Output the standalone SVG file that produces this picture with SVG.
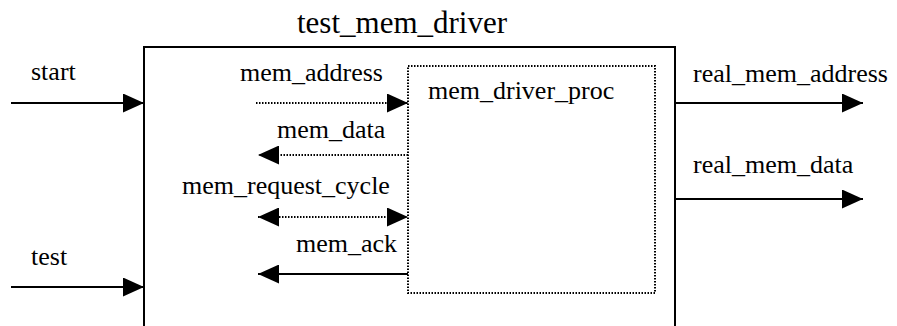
<svg xmlns="http://www.w3.org/2000/svg" width="897" height="326" viewBox="0 0 897 326">
<defs>
<marker id="ah" viewBox="0 0 21 19" refX="21" refY="9.5" markerWidth="21" markerHeight="19" markerUnits="userSpaceOnUse" orient="auto-start-reverse">
<path d="M0,0 L21,9.5 L0,19 Z" fill="#000"/>
</marker>
</defs>
<style>
text{font-family:'Liberation Serif','Times New Roman','DejaVu Serif',serif;font-size:26px;fill:#000}
.title{font-size:31px}
.solid{stroke:#000;stroke-width:2;fill:none}
.dot{stroke:#000;stroke-width:2;stroke-dasharray:1.5 1.5;fill:none}
</style>
<rect width="897" height="326" fill="#fff"/>
<g id="test_mem_driver">
<path class="solid" d="M144,326 V47 H675 V326"/>
<text class="title" x="297" y="33" font-family="Liberation Serif, serif">test_mem_driver</text>
</g>
<g id="mem_driver_proc">
<rect class="dot" x="408" y="66" width="247" height="227"/>
<text x="428" y="99">mem_driver_proc</text>
</g>
<g id="connectors">
<line class="solid" x1="11" y1="103" x2="144" y2="103" marker-end="url(#ah)"/>
<text x="31" y="80">start</text>
<line class="solid" x1="11" y1="287" x2="144" y2="287" marker-end="url(#ah)"/>
<text x="31" y="265">test</text>
<line class="dot" x1="256" y1="103" x2="408" y2="103" marker-end="url(#ah)"/>
<text x="240" y="81">mem_address</text>
<line class="dot" x1="408" y1="155" x2="258" y2="155" marker-end="url(#ah)"/>
<text x="277" y="138">mem_data</text>
<line class="dot" x1="258" y1="217" x2="408" y2="217" marker-start="url(#ah)" marker-end="url(#ah)"/>
<text x="182" y="194">mem_request_cycle</text>
<line class="solid" x1="408" y1="274" x2="258" y2="274" marker-end="url(#ah)"/>
<text x="296" y="252">mem_ack</text>
<line class="solid" x1="675" y1="103" x2="863" y2="103" marker-end="url(#ah)"/>
<text x="693" y="82">real_mem_address</text>
<line class="solid" x1="675" y1="199" x2="863" y2="199" marker-end="url(#ah)"/>
<text x="693" y="173">real_mem_data</text>
</g>
</svg>
